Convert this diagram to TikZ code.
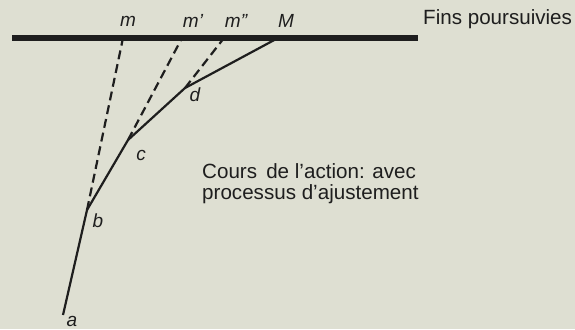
\documentclass[tikz,border=0pt]{standalone}
\usepackage{fontspec}
\setmainfont{Liberation Sans}
\definecolor{paper}{RGB}{222,223,210}
\definecolor{ink}{RGB}{30,30,30}
\begin{document}
\begin{tikzpicture}[x=1pt,y=-1pt,
  ptlabel/.style={inner sep=0pt,font=\fontsize{19}{21}\selectfont\itshape,text=ink},
  bigtext/.style={inner sep=0pt,font=\fontsize{20.6}{21}\selectfont,text=ink,align=left},
  course/.style={draw=ink,line width=2.2pt,line join=round},
  adjust/.style={draw=ink,line width=2.2pt,dash pattern=on 9pt off 5pt},
  goalline/.style={draw=ink,line width=5.5pt}]
\fill[paper] (0,0) rectangle (575,329);
\useasboundingbox (0,0) rectangle (575,329);
% coordinates
\coordinate (L) at (12,38);
\coordinate (R) at (418,38);
\coordinate (pm) at (123,38);
\coordinate (pm1) at (182,38);
\coordinate (pm2) at (224,38);
\coordinate (pM) at (278,38);
\coordinate (pa) at (63,315);
\coordinate (pb) at (87,210);
\coordinate (pc) at (128,140);
\coordinate (pd) at (185,88);
\draw[goalline] (L) -- (R);
\draw[adjust] (pb) -- (pm);
\draw[adjust] (pc) -- (pm1);
\draw[adjust] (pd) -- (pm2);
\draw[course] (pa) -- (pb) -- (pc) -- (pd) -- (pM);
% labels
\node[ptlabel] (lm) at (128,21) {m};
\node[ptlabel] (lm1) at (193,21) {m'};
\node[ptlabel] (lm2) at (236,21) {m"};
\node[ptlabel] (lM) at (286,21) {M};
\node[ptlabel] (ld) at (195,95) {d};
\node[ptlabel] (lc) at (141,155) {c};
\node[ptlabel] (lb) at (98,221) {b};
\node[ptlabel] (la) at (72,321) {a};
\node[bigtext,anchor=west] (fins) at (423,19) {Fins poursuivies};
\node[bigtext,anchor=north west] (cours) at (202,163) {Cours\, de l'action: avec\\processus d'ajustement};
\end{tikzpicture}
\end{document}
